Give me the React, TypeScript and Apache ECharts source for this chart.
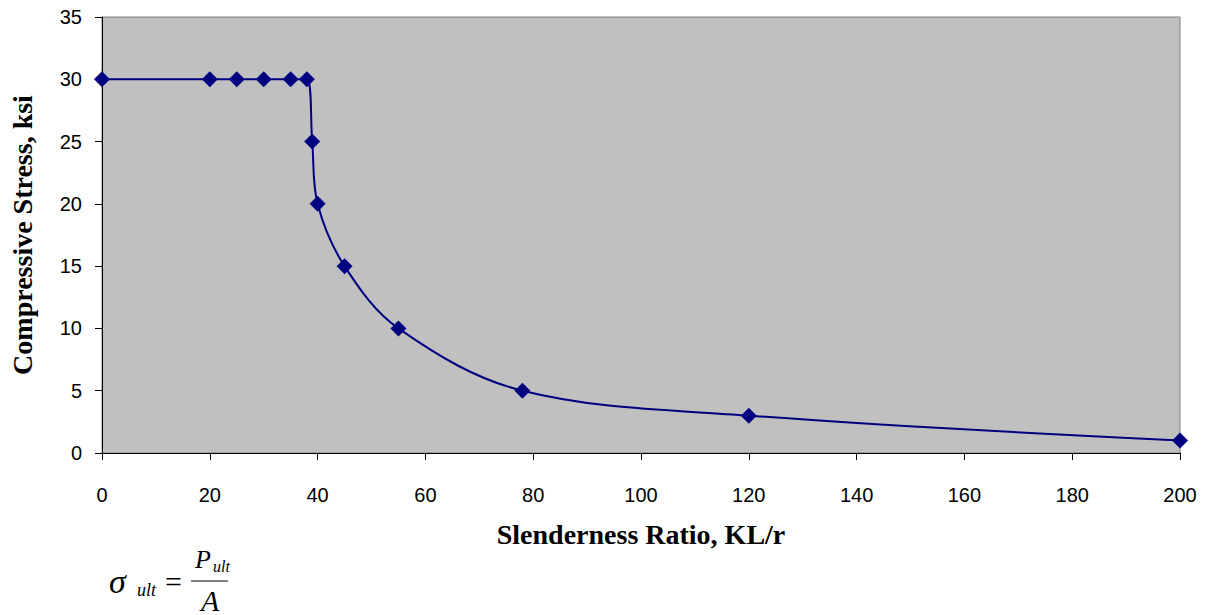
import React, { useEffect, useRef } from "react";
import * as echarts from "echarts";

const slenderness = [0, 20, 25, 30, 35, 38, 39, 40, 45, 55, 78, 120, 200];
const stress = [30, 30, 30, 30, 30, 30, 25, 20, 15, 10, 5, 3, 1];
const xTitle = "Slenderness Ratio, KL/r";
const yTitle = "Compressive Stress, ksi";

const serif = "'Liberation Serif', 'Times New Roman', serif";
const sans = "'Liberation Sans', Arial, sans-serif";

export default function App() {
  const ref = useRef<HTMLDivElement>(null);
  useEffect(() => {
    if (!ref.current) return;
    const chart = echarts.init(ref.current, undefined, { renderer: "svg" });
    const data = slenderness.map((x, i) => [x, stress[i]]);
    const txt = (
      x: number,
      y: number,
      text: string,
      size: number,
      italic = true,
      va = "middle"
    ) => ({
      type: "text",
      x,
      y,
      style: {
        text,
        fill: "#000",
        font: `${italic ? "italic " : ""}${size}px ${serif}`,
        align: "left",
        verticalAlign: va,
      },
    });
    chart.setOption({
      animation: false,
      backgroundColor: "#fff",
      grid: {
        left: 100,
        top: 17,
        right: 25,
        bottom: 162,
        show: true,
        backgroundColor: "#C0C0C0",
        borderColor: "#808080",
        borderWidth: 1,
      },
      xAxis: {
        type: "value",
        min: 0,
        max: 200,
        interval: 20,
        name: xTitle,
        nameLocation: "middle",
        nameGap: 67,
        nameMoveOverlap: false,
        nameTextStyle: { fontFamily: serif, fontWeight: "bold", fontSize: 28, color: "#000" },
        axisLine: { show: true, onZero: false, lineStyle: { color: "#000", width: 1 } },
        axisTick: { show: true, length: 7, lineStyle: { color: "#000" } },
        axisLabel: { fontFamily: sans, fontSize: 20, color: "#000", margin: 32 },
        splitLine: { show: false },
      },
      yAxis: {
        type: "value",
        min: 0,
        max: 35,
        interval: 5,
        name: yTitle,
        nameLocation: "middle",
        nameRotate: 90,
        nameGap: 66,
        nameTextStyle: { fontFamily: serif, fontWeight: "bold", fontSize: 28, color: "#000" },
        axisLine: { show: true, lineStyle: { color: "#000", width: 1 } },
        axisTick: { show: true, length: 7, lineStyle: { color: "#000" } },
        axisLabel: { fontFamily: sans, fontSize: 20, color: "#000", margin: 20 },
        splitLine: { show: false },
      },
      series: [
        {
          type: "line",
          data,
          smooth: 0.35,
          symbol: "diamond",
          symbolSize: 16,
          showSymbol: true,
          lineStyle: { color: "#000080", width: 2 },
          itemStyle: { color: "#000080" },
          clip: false,
        },
      ],
      graphic: [
        txt(109, 581, "σ", 34),
        txt(137, 590, "ult", 18),
        txt(165, 581, "=", 30, false),
        {
          type: "line",
          shape: { x1: 191, y1: 581, x2: 228, y2: 581 },
          style: { stroke: "#000", lineWidth: 1 },
        },
        txt(195, 559, "P", 26),
        txt(213, 566, "ult", 16),
        txt(201, 615, "A", 30, true, "bottom"),
      ],
    });
    return () => chart.dispose();
  }, []);
  return (
    <div
      ref={ref}
      style={{ position: "fixed", left: 0, top: 0, width: 1205, height: 615 }}
    />
  );
}
